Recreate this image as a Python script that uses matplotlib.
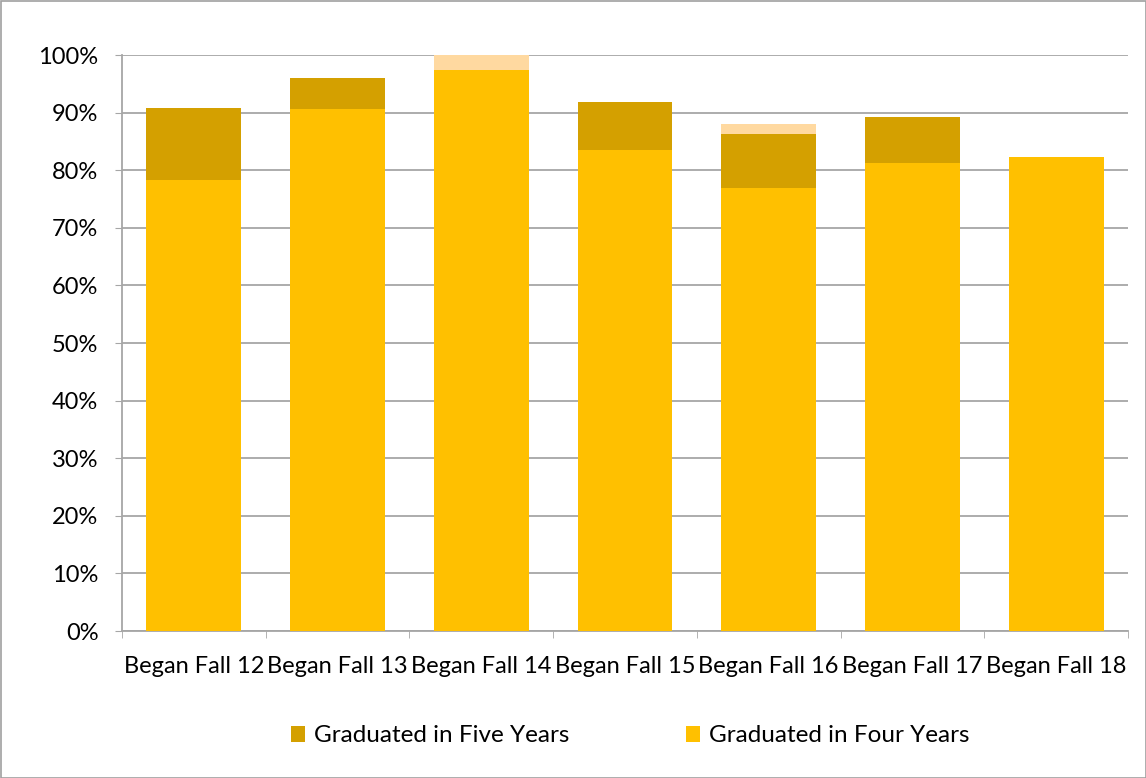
import matplotlib
matplotlib.use("Agg")
import matplotlib.pyplot as plt
from matplotlib.patches import Rectangle
import numpy as np

categories = ["Began Fall 12", "Began Fall 13", "Began Fall 14", "Began Fall 15",
              "Began Fall 16", "Began Fall 17", "Began Fall 18"]
four_years = [78.3, 90.7, 97.4, 83.5, 76.9, 81.2, 82.3]
five_years_total = [90.8, 96.0, 97.4, 91.8, 86.3, 89.2, 82.3]
six_years_total = [90.8, 96.0, 100.0, 91.8, 88.0, 89.2, 82.3]
yticks = [0, 10, 20, 30, 40, 50, 60, 70, 80, 90, 100]

five_inc = [t - f for t, f in zip(five_years_total, four_years)]
six_inc = [s - t for s, t in zip(six_years_total, five_years_total)]

plt.rcParams['font.family'] = ['Lato', 'DejaVu Sans']

fig = plt.figure(figsize=(11.46, 7.78), dpi=100)
ax = fig.add_axes([122/1146, 147/778, (1128-122)/1146, (631-55)/778])

x = np.arange(len(categories))
w = 0.66
c4, c5, c6 = "#FFC000", "#D4A000", "#FFD9A0"
ax.bar(x, four_years, w, color=c4, label="Graduated in Four Years", zorder=3)
ax.bar(x, five_inc, w, bottom=four_years, color=c5, label="Graduated in Five Years", zorder=3)
ax.bar(x, six_inc, w, bottom=five_years_total, color=c6, zorder=3)

ax.set_xlim(-0.5, len(categories) - 0.5)
ax.set_ylim(0, 100)
ax.set_yticks(yticks)
ax.set_yticklabels([f"{v}%" for v in yticks], fontsize=17, color="#000000")
ax.set_xticks(x)
ax.set_xticklabels(categories, fontsize=17)
ax.set_xticks(np.arange(len(categories) + 1) - 0.5, minor=True)
ax.tick_params(axis='x', which='major', length=0, pad=18)
ax.tick_params(axis='x', which='minor', length=5, color="#A6A6A6", direction='out')
ax.tick_params(axis='y', length=5, color="#A6A6A6", direction='out', pad=12)
ax.grid(axis='y', color="#A6A6A6", linewidth=1.3, zorder=0)
for s in ['top', 'right']:
    ax.spines[s].set_visible(False)
for s in ['left', 'bottom']:
    ax.spines[s].set_color("#A6A6A6")
    ax.spines[s].set_linewidth(1.3)

handles, labels = ax.get_legend_handles_labels()
order = [1, 0]
fig.legend([handles[i] for i in order], [labels[i] for i in order],
           loc='center', bbox_to_anchor=(630/1146, (778-736)/778), ncol=2, frameon=False,
           fontsize=17.5, handlelength=0.6, handleheight=0.6, handletextpad=0.35,
           columnspacing=4.8)

fig.patches.append(Rectangle((0.5/1146, 0.5/778), 1 - 1/1146, 1 - 1/778, transform=fig.transFigure,
                             fill=False, edgecolor="#A0A0A0", linewidth=1.2))

fig.savefig("out.png", dpi=100)
